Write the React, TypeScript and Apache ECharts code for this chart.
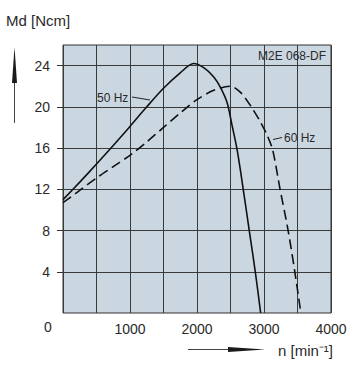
import React, { useEffect, useRef } from "react";
import * as echarts from "echarts";

// n [min^-1] and Md [Ncm]
const speed50: number[] = [0, 250, 500, 750, 1000, 1250, 1500, 1750, 1950, 2100, 2250, 2350, 2450, 2520, 2600, 2690, 2780, 2870, 2950];
const torque50: number[] = [11.0, 12.7, 14.45, 16.25, 18.1, 20.0, 21.8, 23.3, 24.2, 23.8, 22.9, 21.9, 20.4, 18.3, 15.8, 12.0, 8.0, 4.0, 0];

const speed60: number[] = [0, 250, 500, 750, 1000, 1250, 1500, 1750, 2000, 2250, 2500, 2650, 2800, 2950, 3050, 3130, 3240, 3360, 3460, 3550];
const torque60: number[] = [10.7, 11.9, 13.1, 14.2, 15.3, 16.6, 18.0, 19.4, 20.7, 21.6, 22.0, 21.4, 20.1, 18.5, 17.2, 15.8, 12.0, 8.0, 4.0, 0];

const xTickLabels: number[] = [1000, 2000, 3000, 4000];
const yTickLabels: number[] = [4, 8, 12, 16, 20, 24];

const FONT = "'Liberation Sans', Arial, sans-serif";
const TEXT = "#2a2a2a";

export default function App() {
  const ref = useRef<HTMLDivElement>(null);
  useEffect(() => {
    if (!ref.current) return;
    const chart = echarts.init(ref.current, null, { renderer: "svg" });
    chart.setOption({
      animation: false,
      backgroundColor: "#ffffff",
      grid: {
        left: 63,
        right: 21,
        top: 45,
        bottom: 52,
        show: true,
        backgroundColor: "#cad6e0",
        borderColor: "#333",
        borderWidth: 1,
      },
      xAxis: {
        type: "value",
        min: 0,
        max: 4000,
        interval: 500,
        axisLine: { show: false },
        axisTick: { show: false },
        axisLabel: {
          customValues: xTickLabels,
          formatter: (v: number) => String(v),
          margin: 9,
          fontSize: 14,
          color: TEXT,
          fontFamily: FONT,
        },
        splitLine: { show: true, lineStyle: { color: "#3a3a3a", width: 1 } },
      },
      yAxis: {
        type: "value",
        min: 0,
        max: 26,
        interval: 2,
        axisLine: { show: false },
        axisTick: {
          show: true,
          customValues: yTickLabels,
          length: 6,
          lineStyle: { color: "#333" },
        },
        axisLabel: {
          customValues: yTickLabels,
          formatter: (v: number) => String(v),
          margin: 13,
          fontSize: 14,
          color: TEXT,
          fontFamily: FONT,
        },
        splitLine: { show: true, lineStyle: { color: "#3a3a3a", width: 1 } },
      },
      series: [
        {
          name: "50 Hz",
          type: "line",
          data: speed50.map((x, i) => [x, torque50[i]]),
          smooth: 0.3,
          symbol: "none",
          lineStyle: { color: "#111", width: 1.6, type: "solid" },
        },
        {
          name: "60 Hz",
          type: "line",
          data: speed60.map((x, i) => [x, torque60[i]]),
          smooth: 0.3,
          symbol: "none",
          lineStyle: { color: "#111", width: 1.6, type: [10, 5] },
        },
      ],
      graphic: [
        { type: "text", left: 6, top: 13, style: { text: "Md [Ncm]", fontSize: 15, fill: TEXT, fontFamily: FONT } },
        { type: "text", x: 48, y: 327, style: { text: "0", fontSize: 14, fill: TEXT, fontFamily: FONT, align: "center", verticalAlign: "middle" } },
        { type: "text", x: 326, y: 56, style: { text: "M2E 068-DF", fontSize: 12, fill: TEXT, fontFamily: FONT, align: "right", verticalAlign: "middle" } },
        { type: "text", x: 97, y: 98, style: { text: "50 Hz", fontSize: 12, fill: TEXT, fontFamily: FONT, align: "left", verticalAlign: "middle" } },
        { type: "line", shape: { x1: 132, y1: 97, x2: 150, y2: 100 }, style: { stroke: "#222", lineWidth: 1 } },
        { type: "text", x: 284, y: 138, style: { text: "60 Hz", fontSize: 12, fill: TEXT, fontFamily: FONT, align: "left", verticalAlign: "middle" } },
        { type: "line", shape: { x1: 273, y1: 139.5, x2: 282, y2: 137.5 }, style: { stroke: "#222", lineWidth: 1 } },
        // vertical arrow
        { type: "line", shape: { x1: 14.5, y1: 60, x2: 14.5, y2: 123 }, style: { stroke: "#444", lineWidth: 1 } },
        { type: "polygon", shape: { points: [[14.5, 47], [17, 83], [12, 83]] }, style: { fill: "#1a1a1a" } },
        // horizontal arrow
        { type: "line", shape: { x1: 188, y1: 349.5, x2: 240, y2: 349.5 }, style: { stroke: "#444", lineWidth: 1 } },
        { type: "polygon", shape: { points: [[228, 347], [265, 349.5], [228, 352]] }, style: { fill: "#1a1a1a" } },
        { type: "text", x: 278, y: 350, style: { text: "n [min⁻¹]", fontSize: 15, fill: TEXT, fontFamily: FONT, align: "left", verticalAlign: "middle" } },
      ],
    });
    return () => chart.dispose();
  }, []);
  return <div ref={ref} style={{ position: "absolute", left: 0, top: 0, width: 352, height: 365 }} />;
}
